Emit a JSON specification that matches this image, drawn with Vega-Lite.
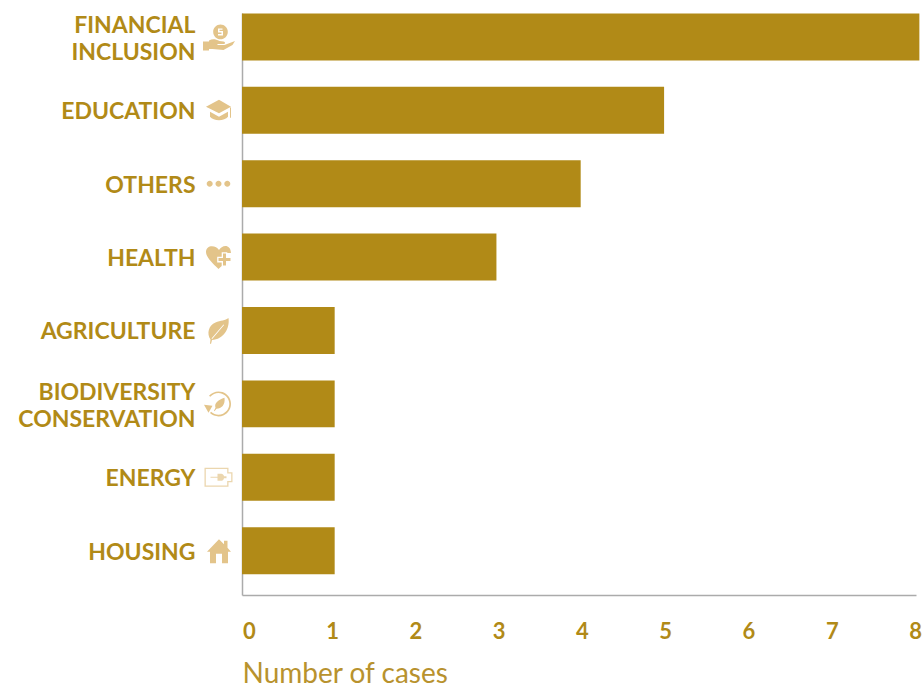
{
"$schema":"https://vega.github.io/schema/vega-lite/v6.json",
"width":674,"height":582,
"autosize":{"type":"none"},
"padding":{"left":242,"top":13,"right":7,"bottom":93},
"background":"white",
"view":{"stroke":null},
"data":{"values":[
{"sector":"FINANCIAL INCLUSION","cases":8.04},
{"sector":"EDUCATION","cases":5.01},
{"sector":"OTHERS","cases":4.02},
{"sector":"HEALTH","cases":3.02},
{"sector":"AGRICULTURE","cases":1.1},
{"sector":"BIODIVERSITY CONSERVATION","cases":1.1},
{"sector":"ENERGY","cases":1.1},
{"sector":"HOUSING","cases":1.1}
]},
"resolve":{"scale":{"x":"independent"}},
"layer":[
{"mark":{"type":"bar","color":"#B18A17","clip":false},
"encoding":{
"y":{"field":"sector","type":"nominal","sort":null,
"scale":{"paddingInner":0.36,"paddingOuter":0.145,"align":0.02},
"axis":{"title":null,"ticks":false,"domainColor":"#ABABAB","domainWidth":1.5,"labelPadding":47,"labelFont":"Lato","labelFontWeight":700,"labelFontSize":23,"labelColor":"#B18A17","labelLineHeight":27,"labelLimit":300,
"labelOffset":{"condition":{"test":"indexof(datum.value,' ')>=0","value":-10.5},"value":2},
"labelExpr":"datum.label=='FINANCIAL INCLUSION'?['FINANCIAL','INCLUSION']:datum.label=='BIODIVERSITY CONSERVATION'?['BIODIVERSITY','CONSERVATION']:datum.label"}},
"x":{"field":"cases","type":"quantitative","scale":{"domain":[0,8],"nice":false,"clamp":false},"axis":null}
}},
{"mark":{"type":"point","filled":true,"opacity":1,"clip":false,"size":4},
"encoding":{
"y":{"field":"sector","type":"nominal","sort":null},
"x":{"datum":-0.279,"type":"quantitative","scale":{"domain":[0,8],"nice":false},"axis":null},
"color":{"field":"sector","type":"nominal","legend":null,"scale":{
"domain":["FINANCIAL INCLUSION","EDUCATION","OTHERS","HEALTH","AGRICULTURE","BIODIVERSITY CONSERVATION","ENERGY","HOUSING"],
"range":["#E3C48A","#E3C48A","#E3C48A","#E3C48A","#E3C48A","#E3C48A","#EBD6AE","#E3C48A"]}},
"shape":{"field":"sector","type":"nominal","legend":null,"scale":{
"domain":["FINANCIAL INCLUSION","EDUCATION","OTHERS","HEALTH","AGRICULTURE","BIODIVERSITY CONSERVATION","ENERGY","HOUSING"],
"range":[
"M9.3 -5A7.3 7.3 0 1 1 -5.3 -5A7.3 7.3 0 1 1 9.3 -5ZM4 -8.5L-0.5 -8.5L-0.5 -4.5L3 -4.5L3 -2.8L-0.5 -2.8L-0.5 -1.5L4.5 -1.5L4.5 -5.8L1 -5.8L1 -7.2L4 -7.2ZM-15.5 4.5L-9.5 4.5L-9.5 3.5C-6 1.5 -3 2 1 4L5 4.5C7 5 7 7 5 7L-1 7L-1 8L6 8L16.5 4L14 8L5 13L-6 12L-9.5 12L-9.5 13.5L-15.5 13.5Z",
"M0.5 -10.5L12.5 -3.5L0.5 3L-12.5 -3.5ZM-8.5 1.5L0.5 6.5L9.5 1.5L9.5 6.5C6 11 -5 11 -8.5 6.5ZM11.5 -2.5L12.5 -3L12.5 7.5L11.5 7.5Z",
"M-5.8 0A3 3 0 1 1 -11.8 0A3 3 0 1 1 -5.8 0ZM3 0A3 3 0 1 1 -3 0A3 3 0 1 1 3 0ZM11.8 0A3 3 0 1 1 5.8 0A3 3 0 1 1 11.8 0Z",
"M0.5 -7C3 -12 12 -14 12.5 -4L8.8 -4L8.8 -4.8L3.2 -4.8L3.2 -0.3L-1.3 -0.3L-1.3 5.3L3.2 5.3L3.2 9L0 12C-6 6 -12.5 0 -12.5 -5C-12.5 -13 -2 -12 0.5 -7ZM4.5 -3.5L7.5 -3.5L7.5 1L12 1L12 4L7.5 4L7.5 8.5L4.5 8.5L4.5 4L0 4L0 1L4.5 1Z",
"M10 -12.5C11.5 -2 5 9 -6.5 9.5L-7.5 13.5L-8.5 13L-8 9C-12 3 -10 -5 -3 -8C2 -10 7 -10 10 -12.5ZM-7 8L-6.3 8.6L5.6 -5.5L5 -6Z",
"M-9.5 -8.1A12.5 12.5 0 1 1 -8.5 9.2L-7.4 7.9A10.8 10.8 0 1 0 -8.2 -7ZM-14.5 1L-6 2L-10 9ZM6 -6C7 1 3 5 -2 5L-4 7.5L-4.5 7L-3 4C-4.5 -1 0 -4 6 -6Z",
"M-14 -9.5L10 -9.5L10 -5L14 -5L14 5L10 5L10 9.5L-14 9.5ZM-12.7 -8.2L-12.7 8.2L8.7 8.2L8.7 3.7L12.7 3.7L12.7 -3.7L8.7 -3.7L8.7 -8.2ZM-8 -0.5L-1 -0.5L-1 -3.5L3 -3.5C5 -3.5 5.5 -1 5.5 -1L8 -1L8 1L5.5 1C5 3.5 3 3.5 3 3.5L-1 3.5L-1 0.5L-8 0.5Z",
"M0.5 -11.5L5.5 -6.5L5.5 -10L9 -10L9 -3L12.5 1L9.5 1L9.5 12.5L3.5 12.5L3.5 3L-2.5 3L-2.5 12.5L-8.5 12.5L-8.5 1L-11.5 1Z"
]}}
}},
{"mark":{"type":"rule","opacity":0},
"encoding":{
"x":{"field":"cases","type":"quantitative","scale":{"domain":[-0.084,8.012],"nice":false,"zero":false},
"axis":{"title":"Number of cases","values":[0,1,2,3,4,5,6,7,8],"format":"d","grid":false,"ticks":false,"domainColor":"#ABABAB","domainWidth":1.5,"labelPadding":26,"labelFont":"Lato","labelFontWeight":700,"labelFontSize":22,"labelColor":"#B18A17","labelFlush":false,"labelOverlap":false,"titleFont":"Lato","titleFontWeight":400,"titleFontSize":28,"titleColor":"#B8922E","titleAnchor":"start","titleAlign":"left","titlePadding":18}}
}}
]
}
